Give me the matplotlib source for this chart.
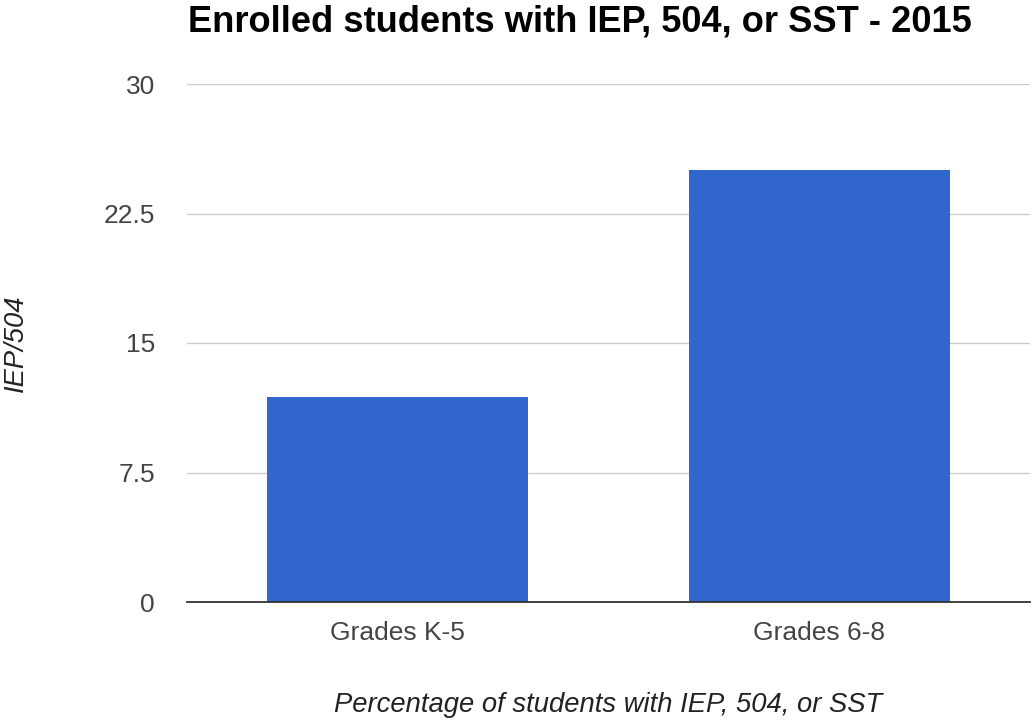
import matplotlib.pyplot as plt

plt.rcParams['font.family'] = ['Liberation Sans', 'DejaVu Sans']

categories = ['Grades K-5', 'Grades 6-8']
values = [11.9, 25.0]
yticks = [0, 7.5, 15, 22.5, 30]
ytick_labels = ['0', '7.5', '15', '22.5', '30']

fig = plt.figure(figsize=(10.33, 7.21), dpi=100)
ax = fig.add_axes([187 / 1033, 1 - 602 / 721, 843 / 1033, 518 / 721])

x = range(len(categories))
ax.bar(x, values, width=0.62, color='#3366cc', zorder=3)

ax.set_xlim(-0.5, 1.5)
ax.set_ylim(0, 30)
ax.set_yticks(yticks)
ax.set_yticklabels(ytick_labels)
ax.set_xticks(list(x))
ax.set_xticklabels(categories)
ax.yaxis.grid(True, color='#cccccc', linewidth=1, zorder=0)
ax.tick_params(axis='both', length=0, labelsize=19, labelcolor='#444444')
ax.tick_params(axis='y', pad=23)
ax.tick_params(axis='x', pad=14)

for s in ['top', 'right', 'left']:
    ax.spines[s].set_visible(False)
ax.spines['bottom'].set_color('#333333')
ax.spines['bottom'].set_linewidth(1.3)
ax.spines['bottom'].set_zorder(4)

xl = ax.set_xlabel('Percentage of students with IEP, 504, or SST', fontsize=19.7,
                   style='italic', color='#222222')
xl.set_va('center')
ax.xaxis.set_label_coords(0.5, (602 - 705) / 518)

yl = ax.set_ylabel('IEP/504', fontsize=19.7, style='italic', color='#222222')
yl.set_va('center')
ax.yaxis.set_label_coords((16 - 187) / 843, 0.5)

fig.text(580 / 1033, 1 - 22 / 721, 'Enrolled students with IEP, 504, or SST - 2015',
         fontsize=26.1, fontweight='bold', ha='center', va='center', color='black')

fig.savefig('out.png', dpi=100)
